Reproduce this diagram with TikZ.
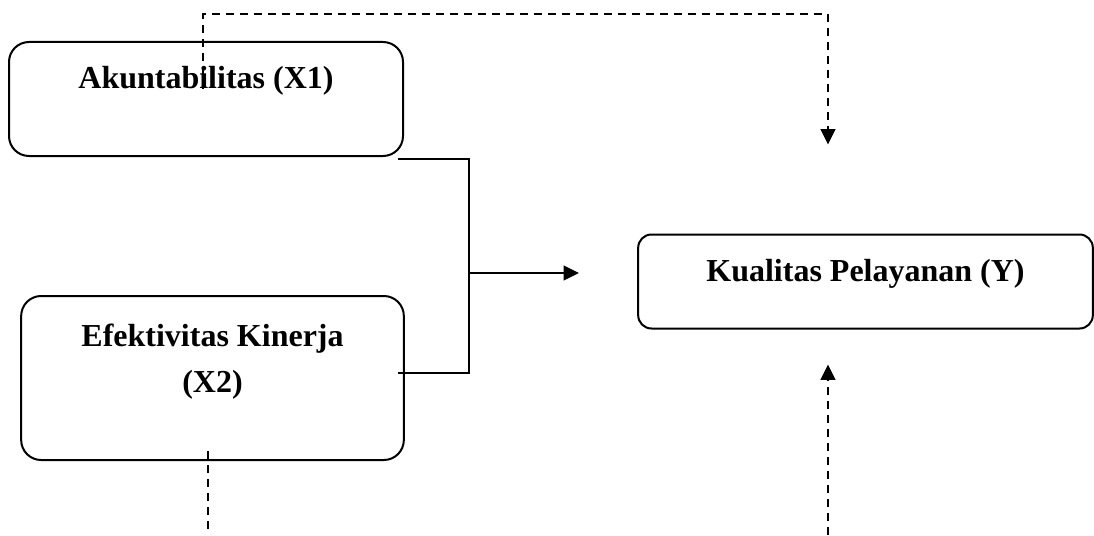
\documentclass[tikz,border=0pt]{standalone}
\usepackage{fontspec}
\setmainfont{Liberation Serif}
\usetikzlibrary{arrows.meta,calc}
\begin{document}
\begin{tikzpicture}[x=0.75pt,y=-0.75pt,
  varbox/.style={draw,line width=1.5pt,rounded corners=15pt,align=center,
    font=\bfseries\fontsize{24}{34}\selectfont,text height=16pt},
  link/.style={line width=1.1pt},
  dashlink/.style={line width=1.5pt,dash pattern=on 6pt off 4.5pt},
  headarrow/.style={-{Triangle[length=11.5pt,width=11pt]}}]
  \useasboundingbox (0,0) rectangle (1094,535);
  \node[varbox,minimum width=295.5pt,minimum height=85.5pt,text depth=31pt] (x1) at (206,99) {Akuntabilitas (X1)};
  \node[varbox,minimum width=287pt,minimum height=123pt,text height=37pt,text depth=16pt] (x2) at (212.5,378) {Efektivitas Kinerja\\(X2)};
  \node[varbox,rounded corners=10pt,minimum width=341pt,minimum height=70.5pt,text depth=16pt] (y) at (865.5,281.5) {Kualitas Pelayanan (Y)};
  % join of X1 and X2 into Y
  \coordinate (j) at (469,273);
  \coordinate (yin) at (579,273);
  \draw[link] ($(x1.south east)+(-6,2)$) -| (j) |- ($(x2.east)+(-7,-5)$);
  \draw[line width=1.5pt,headarrow] (j) -- (yin);
  % dashed lines
  \coordinate (ytop) at ($(y.north)+(-37.5,-89)$);
  \coordinate (ybot) at ($(y.south)+(-37.5,35)$);
  \coordinate (ylow) at (828,535);
  \coordinate (x1in) at ($(x1.north)+(-3,48)$);
  \coordinate (x2out) at ($(x2.south)+(-5,-10)$);
  \coordinate (x2low) at ($(x2out)+(0,78)$);
  \draw[dashlink,headarrow] (x1in) -- ++(0,-75) -| (ytop);
  \draw[dashlink] (x2out) -- (x2low);
  \draw[dashlink,headarrow] (ylow) -- (ybot);
\end{tikzpicture}
\end{document}
